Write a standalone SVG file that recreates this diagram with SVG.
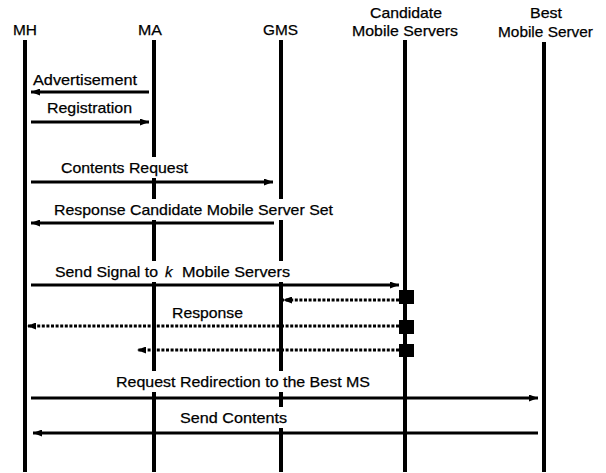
<svg xmlns="http://www.w3.org/2000/svg" width="606" height="473" viewBox="0 0 606 473">
<style>
text{font-family:"Liberation Sans",Arial,sans-serif;font-size:15px;fill:#000;stroke:#000;stroke-width:0.25}
.life{stroke:#000;stroke-width:4;fill:none}
.msg{stroke:#000;stroke-width:3;fill:none}
.dot{stroke:#000;stroke-width:3;fill:none;stroke-dasharray:3 1.6}
.bg{fill:#fff}
</style>
<defs>
<marker id="ah" viewBox="0 0 9 7" refX="9" refY="3.5" markerWidth="9" markerHeight="7" markerUnits="userSpaceOnUse" orient="auto">
<path d="M0,0 L9,3.5 L0,7 z" fill="#000"/>
</marker>
</defs>
<rect width="606" height="473" fill="#fff"/>
<g id="MH">
<text x="13" y="35" textLength="24" lengthAdjust="spacingAndGlyphs">MH</text>
<line class="life" x1="25" y1="40" x2="25" y2="472"/>
</g>
<g id="MA">
<text x="138" y="35" textLength="24" lengthAdjust="spacingAndGlyphs">MA</text>
<line class="life" x1="154" y1="40" x2="154" y2="472"/>
</g>
<g id="GMS">
<text x="263" y="35" textLength="35" lengthAdjust="spacingAndGlyphs">GMS</text>
<line class="life" x1="281" y1="40" x2="281" y2="472"/>
</g>
<g id="CMS">
<text x="370" y="18" textLength="72" lengthAdjust="spacingAndGlyphs">Candidate</text>
<text x="352" y="36" textLength="106" lengthAdjust="spacingAndGlyphs">Mobile Servers</text>
<line class="life" x1="405" y1="40" x2="405" y2="472"/>
<rect x="399" y="290" width="15" height="14" fill="#000"/>
<rect x="399" y="320" width="15" height="14" fill="#000"/>
<rect x="399" y="344" width="15" height="13" fill="#000"/>
</g>
<g id="BMS">
<text x="530" y="18" textLength="32" lengthAdjust="spacingAndGlyphs">Best</text>
<text x="498" y="37" textLength="95" lengthAdjust="spacingAndGlyphs">Mobile Server</text>
<line class="life" x1="544" y1="42" x2="544" y2="472"/>
</g>
<g id="connectors">
<line class="msg" x1="149" y1="92" x2="31" y2="92" marker-end="url(#ah)"/>
<text x="33" y="85" textLength="104" lengthAdjust="spacingAndGlyphs">Advertisement</text>
<line class="msg" x1="31" y1="122" x2="149" y2="122" marker-end="url(#ah)"/>
<text x="47" y="113" textLength="85" lengthAdjust="spacingAndGlyphs">Registration</text>
<rect class="bg" x="58" y="157" width="133" height="21"/>
<text x="61" y="173" textLength="127" lengthAdjust="spacingAndGlyphs">Contents Request</text>
<line class="msg" x1="31" y1="182" x2="273" y2="182" marker-end="url(#ah)"/>
<rect class="bg" x="51" y="199" width="285" height="21"/>
<text x="54" y="215" textLength="279" lengthAdjust="spacingAndGlyphs">Response Candidate Mobile Server Set</text>
<line class="msg" x1="274" y1="223" x2="31" y2="223" marker-end="url(#ah)"/>
<rect class="bg" x="52" y="261" width="241" height="21"/>
<text y="277"><tspan x="55" textLength="103" lengthAdjust="spacingAndGlyphs">Send Signal to</tspan><tspan x="165" font-style="italic">k</tspan><tspan x="182" textLength="108" lengthAdjust="spacingAndGlyphs">Mobile Servers</tspan></text>
<line class="msg" x1="31" y1="285" x2="399" y2="285" marker-end="url(#ah)"/>
<line class="dot" x1="399" y1="300" x2="283" y2="300" marker-end="url(#ah)"/>
<text x="172" y="318" textLength="71" lengthAdjust="spacingAndGlyphs">Response</text>
<line class="dot" x1="399" y1="326" x2="27" y2="326" marker-end="url(#ah)"/>
<line class="dot" x1="399" y1="350" x2="137" y2="350" marker-end="url(#ah)"/>
<rect class="bg" x="113" y="371" width="260" height="21"/>
<text x="116" y="387" textLength="254" lengthAdjust="spacingAndGlyphs">Request Redirection to the Best MS</text>
<line class="msg" x1="31" y1="398" x2="538" y2="398" marker-end="url(#ah)"/>
<rect class="bg" x="177" y="407" width="113" height="21"/>
<text x="180" y="423" textLength="107" lengthAdjust="spacingAndGlyphs">Send Contents</text>
<line class="msg" x1="538" y1="433" x2="33" y2="433" marker-end="url(#ah)"/>
</g>
</svg>
